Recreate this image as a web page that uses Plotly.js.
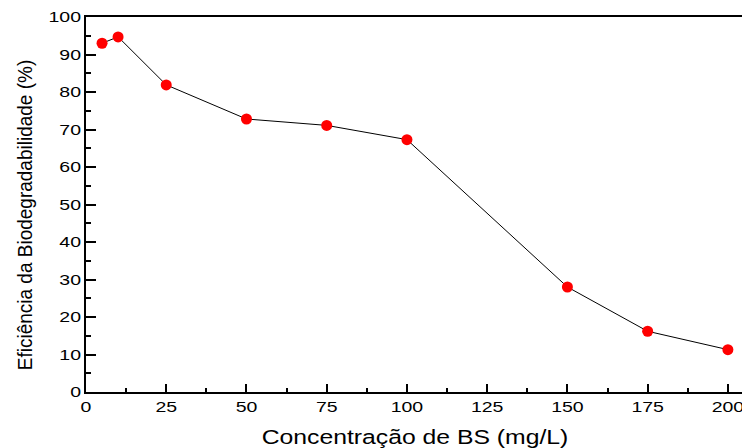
<!DOCTYPE html>
<html>
<head>
<meta charset="utf-8">
<script src="https://cdn.plot.ly/plotly-3.0.1.min.js"></script>
<style>
  html, body { margin: 0; padding: 0; background: #fff; }
  #chart { width: 742px; height: 448px; }
</style>
</head>
<body>
<div id="chart"></div>
<script>
// Biosurfactant concentration (mg/L) vs. biodegradability efficiency (%)
const concentracao = [5, 10, 25, 50, 75, 100, 150, 175, 200];
const eficiencia = [93.0, 94.7, 81.9, 72.8, 71.1, 67.3, 28.0, 16.2, 11.3];
const xTicks = [0, 25, 50, 75, 100, 125, 150, 175, 200];
const yTicks = [0, 10, 20, 30, 40, 50, 60, 70, 80, 90, 100];

const font = 'Liberation Sans, Arial, sans-serif';

const trace = {
  x: concentracao,
  y: eficiencia,
  type: 'scatter',
  mode: 'lines+markers',
  line: { color: '#000', width: 1 },
  marker: { color: '#ff0000', size: 11, line: { width: 0 } },
  hoverinfo: 'x+y'
};

const layout = {
  width: 742,
  height: 448,
  margin: { l: 86, r: 0, t: 17, b: 56 },
  paper_bgcolor: '#fff',
  plot_bgcolor: '#fff',
  showlegend: false,
  font: { family: font, color: '#000' },
  xaxis: {
    range: [0, 204.4],
    tickvals: xTicks,
    ticktext: xTicks.map(String),
    ticks: 'inside',
    ticklen: 8,
    tickwidth: 2,
    tickcolor: '#000',
    minor: { ticks: 'inside', dtick: 12.5, tick0: 0, ticklen: 4, tickwidth: 2, tickcolor: '#000' },
    showline: true,
    linewidth: 2,
    linecolor: '#000',
    mirror: true,
    showgrid: false,
    zeroline: false,
    tickfont: { size: 15, family: font, color: '#000' },
    title: { text: 'Concentração de BS (mg/L)', font: { size: 19.5, family: font, color: '#000' }, standoff: 10 }
  },
  yaxis: {
    range: [0, 100],
    tickvals: yTicks,
    ticktext: yTicks.map(String),
    ticks: 'inside',
    ticklen: 10,
    tickwidth: 2,
    tickcolor: '#000',
    minor: { ticks: 'inside', dtick: 5, tick0: 0, ticklen: 5, tickwidth: 2, tickcolor: '#000' },
    showline: true,
    linewidth: 2,
    linecolor: '#000',
    mirror: false,
    showgrid: false,
    zeroline: false,
    tickfont: { size: 15, family: font, color: '#000' },
    title: { text: 'Eficiência da Biodegradabilidade (%)', font: { size: 19, family: font, color: '#000' }, standoff: 14 }
  }
};

// Widen a text element horizontally (in page space) about an anchor point,
// optionally moving it so its box centre lands on (cx, cy).
function widen(el, sx, anchor, cx, cy) {
  const svgRect = el.ownerSVGElement.getBoundingClientRect();
  const r = el.getBoundingClientRect();
  const left = r.left - svgRect.left, top = r.top - svgRect.top;
  const ax = anchor === 'right' ? left + r.width : left + r.width / 2;
  const ay = top + r.height / 2;
  const dx = cx == null ? 0 : cx - (left + r.width / 2);
  const dy = cy == null ? 0 : cy - ay;
  const ctm = el.parentNode.getCTM();
  const px = ax - ctm.e, py = ay - ctm.f;
  const prev = el.getAttribute('transform') || '';
  el.setAttribute('transform',
    `translate(${dx},${dy}) translate(${px},${py}) scale(${sx},1) translate(${-px},${-py}) ${prev}`);
}

Plotly.newPlot('chart', [trace], layout, { displayModeBar: false, staticPlot: true }).then(gd => {
  gd.querySelectorAll('g.xtick text').forEach(t => widen(t, 1.3, 'center'));
  gd.querySelectorAll('g.ytick text').forEach(t => widen(t, 1.3, 'right'));
  const xt = gd.querySelector('text.xtitle');
  if (xt) widen(xt, 1.27, 'center', 415, 437);
  const yt = gd.querySelector('text.ytitle');
  if (yt) widen(yt, 1.1, 'center', 25, 215);
});
</script>
</body>
</html>
